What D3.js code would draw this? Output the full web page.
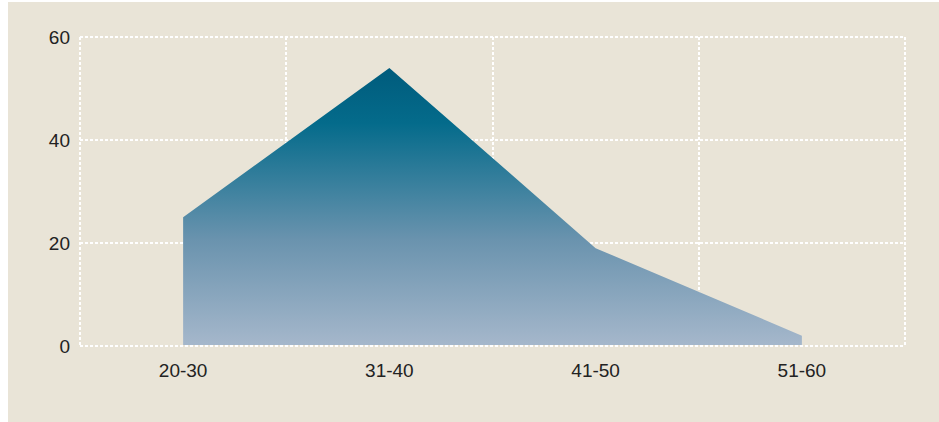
<!DOCTYPE html>
<html>
<head>
<meta charset="utf-8">
<script src="https://cdn.jsdelivr.net/npm/d3@7"></script>
<style>
  html, body { margin: 0; padding: 0; background: #ffffff; }
  svg { display: block; }
</style>
</head>
<body>
<script>
const categories = ["20-30", "31-40", "41-50", "51-60"];
const values = [25, 54, 19, 2];
const yTicks = [0, 20, 40, 60];

const W = 939, H = 422;
const margin = { top: 37, right: 34, bottom: 76, left: 80 };

const svg = d3.select("body").append("svg").attr("width", W).attr("height", H);

svg.append("rect").attr("x", 8).attr("y", 2).attr("width", W - 8).attr("height", H - 2)
  .attr("fill", "#e9e4d7");

const x = d3.scaleBand().domain(categories).range([margin.left, W - margin.right]).padding(0);
const y = d3.scaleLinear().domain([0, 60]).range([H - margin.bottom, margin.top]);

const defs = svg.append("defs");
const grad = defs.append("linearGradient").attr("id", "areaGrad")
  .attr("x1", 0).attr("y1", 0).attr("x2", 0).attr("y2", 1);
grad.append("stop").attr("offset", "0%").attr("stop-color", "#005b7c");
grad.append("stop").attr("offset", "20%").attr("stop-color", "#046b8b");
grad.append("stop").attr("offset", "62%").attr("stop-color", "#6a93ae");
grad.append("stop").attr("offset", "100%").attr("stop-color", "#a5b7cb");

const grid = svg.append("g").attr("stroke", "#ffffff").attr("stroke-width", 2)
  .attr("stroke-dasharray", "3,2").attr("fill", "none")
  .attr("shape-rendering", "crispEdges");

const xs = categories.map(c => x(c)).concat([x.range()[1]]).map(Math.round);
grid.selectAll("line.v").data(xs).enter().append("line")
  .attr("x1", d => d).attr("x2", d => d)
  .attr("y1", Math.round(y(60))).attr("y2", Math.round(y(0)));
grid.selectAll("line.h").data(yTicks).enter().append("line")
  .attr("x1", x.range()[0]).attr("x2", x.range()[1])
  .attr("y1", d => Math.round(y(d))).attr("y2", d => Math.round(y(d)));

const data = categories.map((c, i) => ({ c, v: values[i] }));
const area = d3.area()
  .x(d => x(d.c) + x.bandwidth() / 2)
  .y0(y(0) - 1)
  .y1(d => y(d.v));

svg.append("path").datum(data).attr("d", area).attr("fill", "url(#areaGrad)");

const font = "Liberation Sans, Arial, Helvetica, sans-serif";

// Y axis
const yAxis = d3.axisLeft(y).tickValues(yTicks).tickSize(0).tickPadding(10);
const yg = svg.append("g").attr("transform", `translate(${margin.left},0)`).call(yAxis);
yg.select(".domain").remove();
yg.selectAll("text").attr("font-family", font)
  .attr("font-size", 19).attr("fill", "#222");

// X axis
const xAxis = d3.axisBottom(x).tickSize(0).tickPadding(18);
const xg = svg.append("g").attr("transform", `translate(0,${y(0)})`).call(xAxis);
xg.select(".domain").remove();
xg.selectAll("text").attr("font-family", font)
  .attr("font-size", 19).attr("fill", "#222");
</script>
</body>
</html>
